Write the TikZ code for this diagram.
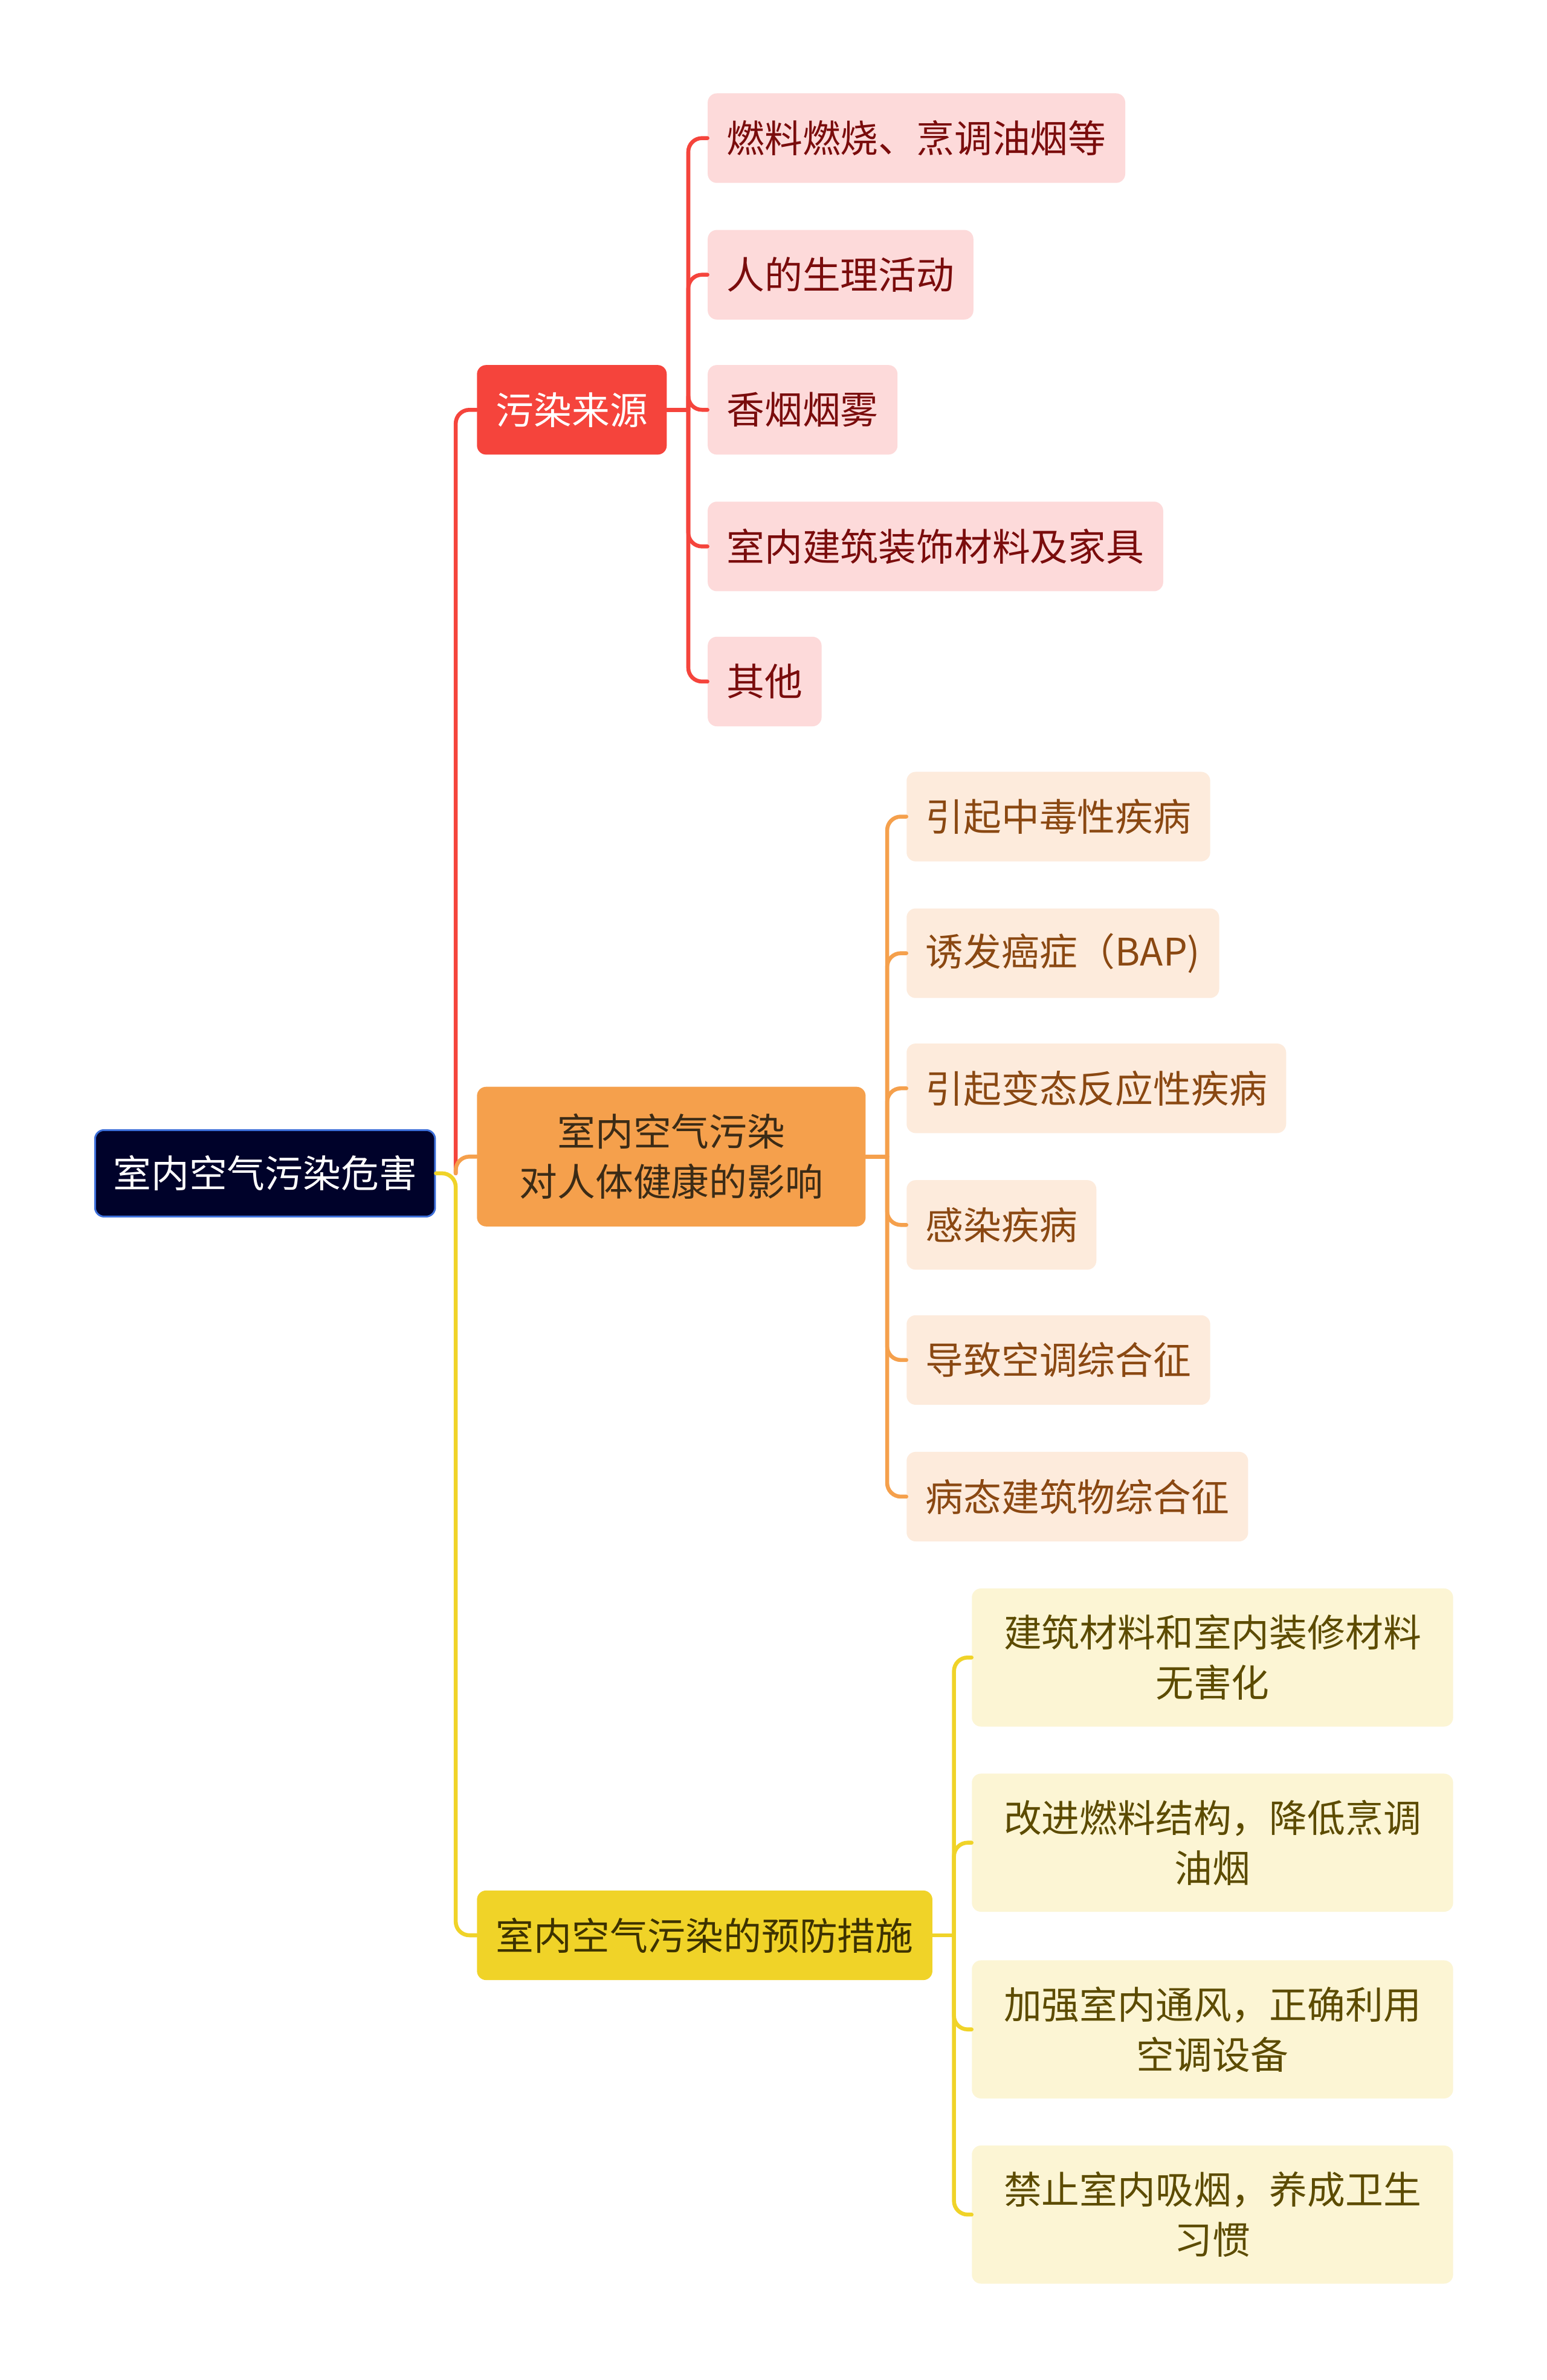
\documentclass[tikz,border=0pt]{standalone}
\usepackage{fontspec}
\newfontfamily\cjk{Noto Sans CJK SC}
\usetikzlibrary{calc}
\definecolor{rootfill}{HTML}{00022A}
\definecolor{rootborder}{HTML}{3D6FD9}
\definecolor{redmain}{HTML}{F5443C}
\definecolor{redlight}{HTML}{FDDADA}
\definecolor{redtext}{HTML}{7A0C0C}
\definecolor{orgmain}{HTML}{F5A04C}
\definecolor{orglight}{HTML}{FDEBDC}
\definecolor{orgtext}{HTML}{8A4812}
\definecolor{orgdark}{HTML}{3B2B16}
\definecolor{ylwmain}{HTML}{F0D328}
\definecolor{ylwlight}{HTML}{FCF5D4}
\definecolor{ylwtext}{HTML}{5C4B00}
\definecolor{ylwdark}{HTML}{3D3200}
\begin{document}
\begin{tikzpicture}[x=1pt,y=-1pt,
  box/.style={rounded corners=6pt, anchor=west, inner ysep=0pt,
    font=\cjk\fontsize{25}{33}\selectfont, align=center},
  single/.style={box, inner xsep=12.5pt, minimum height=59pt},
  rootbox/.style={box, inner xsep=0pt, minimum width=224pt, minimum height=57pt, fill=rootfill, draw=rootborder, line width=1.2pt, text=white},
  redl1/.style={single, fill=redmain, text=white},
  redl2/.style={single, fill=redlight, text=redtext},
  orgl1/.style={box, inner xsep=0pt, minimum width=256pt, minimum height=92pt, fill=orgmain, text=orgdark},
  orgl2/.style={single, fill=orglight, text=orgtext},
  ylwl1/.style={single, fill=ylwmain, text=ylwdark},
  ylwl2/.style={box, inner xsep=0pt, minimum width=317pt, minimum height=91pt, fill=ylwlight, text=ylwtext},
  conn/.style={line width=2.6pt, rounded corners=9pt, line cap=round},
]
\path[use as bounding box, fill=white] (0,0) rectangle (1019,1568);

% root
\node[rootbox] (root) at (62,773) {室内空气污染危害};

% level 1
\node[redl1] (s1) at (314,270) {污染来源};
\node[orgl1] (s2) at (314,762) {室内空气污染\\对人体健康的影响};
\node[ylwl1] (s3) at (314,1275) {室内空气污染的预防措施};

% red children
\node[redl2] (r1) at (466,91) {燃料燃烧、烹调油烟等};
\node[redl2] (r2) at (466,181) {人的生理活动};
\node[redl2] (r3) at (466,270) {香烟烟雾};
\node[redl2] (r4) at (466,360) {室内建筑装饰材料及家具};
\node[redl2] (r5) at (466,449) {其他};

% orange children
\node[orgl2] (o1) at (597,538) {引起中毒性疾病};
\node[orgl2] (o2) at (597,628) {诱发癌症（BAP)};
\node[orgl2] (o3) at (597,717) {引起变态反应性疾病};
\node[orgl2] (o4) at (597,807) {感染疾病};
\node[orgl2] (o5) at (597,896) {导致空调综合征};
\node[orgl2] (o6) at (597,986) {病态建筑物综合征};

% yellow children
\node[ylwl2] (y1) at (640,1092) {建筑材料和室内装修材料\\无害化};
\node[ylwl2] (y2) at (640,1214) {改进燃料结构，降低烹调\\油烟};
\node[ylwl2] (y3) at (640,1337) {加强室内通风，正确利用\\空调设备};
\node[ylwl2] (y4) at (640,1459) {禁止室内吸烟，养成卫生\\习惯};

% root connectors
\coordinate (j) at ($(root.east)+(13,0)$);
\draw[conn, redmain] (j) |- (s1.west);
\draw[conn, orgmain] (j) |- (s2.west);
\draw[conn, ylwmain] (root.east) -- (j) |- (s3.west);

% red bracket
\coordinate (bs1) at ($(s1.east)+(14,0)$);
\draw[conn, redmain, rounded corners=0pt] (s1.east) -- (bs1);
\foreach \c in {r1,r2,r3,r4,r5} \draw[conn, redmain] (bs1) |- (\c.west);

% orange bracket
\coordinate (bs2) at ($(s2.east)+(14,0)$);
\draw[conn, orgmain, rounded corners=0pt] (s2.east) -- (bs2);
\foreach \c in {o1,o2,o3,o4,o5,o6} \draw[conn, orgmain] (bs2) |- (\c.west);

% yellow bracket
\coordinate (bs3) at ($(s3.east)+(14,0)$);
\draw[conn, ylwmain, rounded corners=0pt] (s3.east) -- (bs3);
\foreach \c in {y1,y2,y3,y4} \draw[conn, ylwmain] (bs3) |- (\c.west);
\end{tikzpicture}
\end{document}
